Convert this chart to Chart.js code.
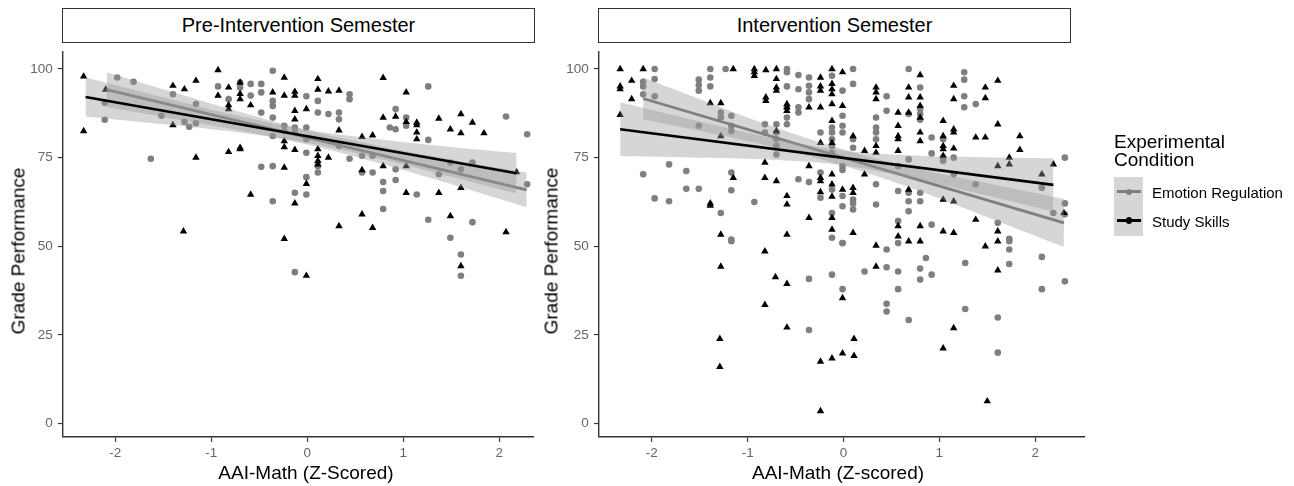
<!DOCTYPE html>
<html>
<head>
<meta charset="utf-8">
<script src="https://cdn.jsdelivr.net/npm/chart.js@4.4.1/dist/chart.umd.min.js"></script>
<style>
  html, body { margin:0; padding:0; background:#fff; }
  body { width:1294px; height:486px; position:relative; overflow:hidden; font-family:"Liberation Sans", Arial, sans-serif; color:#000; }
  canvas { position:absolute; top:0; }
  .strip { position:absolute; top:8px; height:35px; box-sizing:border-box; border:1.5px solid #333; background:#fff;
           font-size:20px; line-height:32px; text-align:center; }
  .xt { position:absolute; top:462.6px; font-size:19px; line-height:19px; white-space:nowrap; transform:translateX(-50%); }
  .yt { position:absolute; font-size:19px; line-height:19px; white-space:nowrap; transform:translate(-50%,-50%) rotate(-90deg); }
  .legtitle { position:absolute; left:1114px; top:132.8px; font-size:19px; line-height:18.2px; }
  .keybox { position:absolute; left:1114px; top:177px; width:29px; height:59px; background:#d6d6d6; }
  .kline { position:absolute; left:1117px; width:24px; height:2.8px; }
  .kdot { position:absolute; left:1126px; width:6.4px; height:6.4px; border-radius:50%; }
  .klab { position:absolute; left:1152px; font-size:15px; line-height:15px; white-space:nowrap; }
</style>
</head>
<body>
<canvas id="c1" width="560" height="486" style="left:0px"></canvas>
<canvas id="c2" width="560" height="486" style="left:560px"></canvas>

<div class="strip" style="left:62px; width:473px;">Pre-Intervention Semester</div>
<div class="strip" style="left:598px; width:473px;">Intervention Semester</div>

<div class="xt" style="left:306px;">AAI-Math (Z-Scored)</div>
<div class="xt" style="left:838px;">AAI-Math (Z-scored)</div>
<div class="yt" style="left:17.5px; top:251px;">Grade Performance</div>
<div class="yt" style="left:551px; top:251px;">Grade Performance</div>

<div class="legtitle">Experimental<br>Condition</div>
<div class="keybox"></div>
<div class="kline" style="top:190.4px; background:#7f7f7f;"></div>
<div class="kdot" style="top:188.5px; background:#7f7f7f;"></div>
<div class="kline" style="top:219.2px; background:#000;"></div>
<div class="kdot" style="top:217.3px; background:#000;"></div>
<div class="klab" style="top:184.7px;">Emotion Regulation</div>
<div class="klab" style="top:213.7px;">Study Skills</div>

<script>
// ---------- tick labels ----------
const xTicks = [-2, -1, 0, 1, 2];
const yTicks = [0, 25, 50, 75, 100];

// ---------- Pre-Intervention Semester ----------
// Emotion Regulation (grey circles)
const preER_x = [-2.11,-2.11,-1.98,-1.81,-1.63,-1.52,-1.40,-1.28,-1.23,-1.16,-1.16,-0.93,-0.82,-0.70,-0.70,-0.59,-0.59,-0.48,-0.48,-0.48,
  -0.36,-0.36,-0.36,-0.36,-0.36,-0.48,-0.36,-0.36,-0.24,-0.24,-0.13,-0.13,-0.13,-0.01,-0.01,-0.01,-0.01,-0.01,-0.01,0.11,
  0.11,0.11,0.11,0.22,0.33,0.33,0.33,0.44,0.44,0.44,0.57,0.57,0.68,0.68,0.79,0.79,0.79,0.86,0.92,0.92,
  0.92,0.92,1.03,1.03,1.14,1.26,1.26,1.26,1.37,1.49,1.49,1.60,1.72,1.72,2.07,2.29,2.29,-0.13,1.60,1.60];
const preER_y = [85.7,90.5,97.6,96.4,74.7,86.8,92.9,85.1,83.7,84.7,90.1,95.1,91.5,96.2,94.8,95.8,92.5,95.8,93.4,87.7,
  99.5,91.0,89.6,86.3,81.1,72.4,72.6,62.7,84.0,82.5,83.5,82.1,65.1,92.3,83.5,80.2,76.4,69.5,64.6,91.0,
  87.7,72.6,70.8,87.3,87.7,85.8,78.3,92.9,91.5,74.7,75.5,70.8,75.5,70.8,68.1,65.6,60.5,83.5,88.7,83.0,
  71.7,68.7,86.3,84.0,64.6,95.1,80.0,57.5,70.3,73.6,52.4,71.7,73.6,56.8,86.6,81.6,67.5,42.7,47.7,41.7];
// Study Skills (black triangles)
const preSS_x = [-2.33,-2.33,-2.10,-1.40,-1.28,-1.16,-1.40,-1.16,-1.29,-0.93,-0.93,-0.82,-0.82,-0.82,-0.70,-0.70,-0.70,-0.59,-0.82,-0.70,
  -0.70,-0.59,-0.36,-0.24,-0.24,-0.13,-0.13,-0.13,-0.13,-0.01,-0.24,-0.24,-0.13,-0.24,-0.01,-0.13,-0.24,0.11,0.11,0.22,
  0.33,0.11,0.11,0.11,0.11,0.22,0.33,0.33,0.57,0.57,0.57,0.68,0.68,0.79,0.79,0.79,0.92,1.03,1.03,1.03,
  1.03,1.14,1.14,1.14,1.14,1.37,1.37,1.49,1.49,1.60,1.60,1.60,1.72,1.84,2.07,2.18,-0.01,1.60];
const preSS_y = [97.9,82.5,94.2,95.3,94.3,96.7,84.2,75.0,54.2,99.7,92.5,94.8,89.8,88.7,96.2,93.0,91.5,89.8,76.6,77.8,
  77.4,64.6,93.4,97.6,92.5,93.6,92.5,88.2,85.8,88.7,79.7,78.0,77.2,72.2,67.6,62.1,52.1,97.2,94.2,93.7,
  93.9,77.4,75.5,74.1,73.1,75.0,82.7,55.7,80.9,71.5,59.0,81.3,55.2,97.5,86.3,72.6,86.6,93.4,85.1,72.6,
  65.1,84.9,84.2,82.1,80.2,86.0,65.1,83.0,58.5,87.3,81.9,66.5,84.9,81.9,54.0,70.9,41.7,44.4];
// fitted lines and confidence bands
const preER_fitX = [-2.09, 2.285];
const preER_fitY = [94.2, 65.9];
const preER_bandX = [-2.09, -1.5, -0.75, 0, 0.75, 1.5, 2.285];
const preER_bandHi = [99.1, 94.3, 88.3, 82.7, 78.3, 74.5, 70.8];
const preER_bandLo = [89.3, 86.5, 82.9, 78.7, 73.4, 67.5, 61.0];
const preSS_fitX = [-2.31, 2.18];
const preSS_fitY = [92.1, 70.6];
const preSS_bandX = [-2.31, -1.5, -0.75, 0, 0.75, 1.5, 2.18];
const preSS_bandHi = [97.6, 92.0, 87.0, 82.9, 80.2, 78.0, 76.3];
const preSS_bandLo = [86.6, 84.4, 82.2, 79.1, 74.7, 69.6, 64.9];

// ---------- Intervention Semester ----------
const intER_x = [-2.09,-2.09,-2.09,-1.97,-1.97,-1.97,-2.09,-1.97,-1.82,-1.82,-1.64,-1.64,-1.51,-1.51,-1.51,-1.51,-1.51,-1.39,-1.39,-1.39,
  -1.28,-1.28,-1.23,-1.17,-1.17,-1.17,-1.17,-1.17,-1.28,-1.17,-0.93,-0.82,-0.82,-0.70,-0.70,-0.70,-0.70,-0.70,-0.59,-0.59,
  -0.59,-0.59,-0.59,-0.59,-0.47,-0.47,-0.47,-0.47,-0.47,-0.36,-0.36,-0.36,-0.36,-0.36,-0.24,-0.24,-0.24,-0.12,-0.12,-0.12,
  -0.12,-0.12,-0.12,-0.12,-0.12,-0.12,-0.01,-0.01,-0.01,-0.01,-0.01,-0.01,-0.01,-0.01,-0.01,0.10,0.10,0.10,0.10,0.10,
  0.10,0.10,0.34,0.34,0.34,0.34,0.34,0.34,0.45,0.45,0.57,0.57,0.68,0.68,0.68,0.68,0.68,0.68,0.57,0.80,
  0.80,0.80,0.80,0.80,0.80,0.92,0.92,0.92,1.04,1.04,1.04,1.15,1.15,1.26,1.26,1.26,1.26,1.38,1.38,1.61,
  1.73,2.07,2.19,2.31,2.31,2.31,
  -1.17,-0.36,-0.12,-0.01,-0.01,-0.36,0.22,0.45,0.45,0.45,0.45,0.57,0.57,0.57,0.68,0.80,0.80,0.86,0.92,1.27,
  1.27,1.61,1.61,1.73,1.73,1.73,2.07,2.07,2.31];
const intER_y = [96.4,95.1,92.9,100,97.2,92.3,70.3,63.5,73.1,62.7,71.2,66.2,66.2,97.0,95.5,93.9,84.0,100,97.6,95.1,
  87.7,86.3,100,86.8,84.0,82.5,70.8,65.8,59.4,51.9,62.5,84.4,82.1,84.4,82.1,80.2,78.3,75.9,100,99.1,
  95.1,89.2,86.3,84.4,98.3,94.3,89.2,87.7,68.9,97.6,95.3,93.4,91.5,68.1,82.1,70.8,63.7,98.1,83.5,82.1,
  80.2,78.3,76.4,66.0,59.4,52.4,93.9,86.8,84.0,82.1,72.6,71.5,64.2,61.3,50.9,100,95.8,80.2,77.8,63.2,
  62.1,60.4,86.3,83.5,82.1,80.2,67.5,61.8,92.3,88.2,72.6,65.6,100,87.3,74.5,65.1,62.7,59.9,57.1,88.7,
  87.3,85.7,65.1,62.7,94.8,80.7,76.2,56.1,80.2,75.0,74.1,75.0,70.3,99.1,97.0,92.3,89.2,90.1,67.5,56.6,
  52.1,66.5,59.4,75.0,62.1,59.0,
  51.4,40.8,42.0,50.9,37.9,26.4,42.9,49.1,44.1,33.8,31.6,50.9,42.9,37.9,29.2,43.7,40.6,46.7,42.0,45.3,
  32.3,29.9,20.0,51.4,49.1,45.0,47.0,37.9,40.1];
const intSS_x = [-2.33,-2.33,-2.33,-2.33,-2.21,-2.21,-2.09,-1.39,-1.28,-1.28,-1.39,-1.39,-1.28,-1.15,-1.15,-0.93,-0.93,-0.93,-0.81,-0.70,
  -0.70,-0.70,-0.70,-0.81,-0.81,-0.59,-0.59,-0.59,-0.82,-0.82,-0.70,-0.70,-0.59,-0.59,-0.59,-0.36,-0.24,-0.24,-0.24,-0.24,
  -0.36,-0.36,-0.24,-0.24,-0.24,-0.24,-0.12,-0.12,-0.12,-0.12,-0.12,-0.12,-0.12,-0.12,-0.12,-0.12,-0.12,-0.12,-0.01,-0.01,
  -0.01,0.10,0.10,0.10,0.10,0.22,0.22,0.34,0.34,0.34,0.34,0.34,0.57,0.57,0.57,0.57,0.57,0.57,0.57,0.68,
  0.68,0.68,0.68,0.68,0.80,0.80,0.80,0.80,0.80,0.80,0.80,0.80,1.04,1.04,1.04,1.04,1.04,1.04,1.04,1.15,
  1.15,1.15,1.15,1.15,1.15,1.15,1.38,1.38,1.48,1.48,1.48,1.61,1.61,1.61,1.61,1.73,1.73,1.84,1.84,2.07,
  2.19,2.30,
  -1.28,-0.82,-0.71,-0.59,-0.82,-0.59,-1.29,-1.29,-0.24,-0.12,-0.01,0.11,0.11,-0.01,0.34,0.34,1.48,1.61,1.61,1.15,
  1.04,-0.24,1.50];
const intSS_y = [100,95.1,94.3,87.1,96.7,91.5,100,90.4,90.4,81.1,62.1,61.5,53.3,100,69.3,100,99.1,98.1,99.7,100,
  97.2,94.8,93.9,92.0,91.0,90.1,89.2,88.2,73.6,69.3,68.4,82.5,64.2,61.8,53.3,89.2,97.6,95.1,93.9,89.2,
  72.6,58.0,79.2,69.3,68.4,65.3,100,95.8,94.3,92.9,90.1,85.4,79.2,70.3,67.5,64.0,58.0,54.7,99.1,89.6,
  66.0,81.1,66.5,65.1,53.8,76.9,70.3,94.8,93.4,91.5,78.3,76.4,87.7,84.0,81.1,80.2,76.9,55.7,52.8,94.8,
  92.0,87.7,66.0,51.4,98.3,92.0,89.6,86.3,82.1,79.7,55.7,51.4,85.4,81.1,78.3,77.4,75.5,63.2,54.2,95.3,
  91.5,83.0,82.1,77.6,62.7,53.8,57.5,80.7,94.8,91.8,80.7,96.7,84.4,72.6,54.2,75.0,73.1,81.1,77.2,70.3,
  73.1,59.4,
  44.3,48.6,41.3,39.4,33.5,27.1,23.9,16.0,17.5,18.4,19.8,23.9,19.1,35.4,50.2,44.3,50.0,51.4,43.2,26.9,
  21.2,3.5,6.3];
const intER_fitX = [-2.09, 2.30];
const intER_fitY = [91.7, 56.6];
const intER_bandX = [-2.09, -1.5, -0.75, 0, 0.75, 1.5, 2.30];
const intER_bandHi = [97.6, 91.5, 83.9, 77.3, 72.0, 67.8, 63.4];
const intER_bandLo = [85.8, 82.5, 78.1, 72.7, 66.0, 58.2, 49.8];
const intSS_fitX = [-2.33, 2.19];
const intSS_fitY = [83.0, 67.3];
const intSS_bandX = [-2.33, -1.5, -0.75, 0, 0.75, 1.5, 2.19];
const intSS_bandHi = [90.6, 85.2, 80.6, 77.0, 75.6, 75.1, 74.8];
const intSS_bandLo = [75.4, 75.0, 74.4, 72.8, 69.0, 64.3, 59.8];

// ---------- drawing ----------
const FONT = '"Liberation Sans", Arial, sans-serif';
const GREY = '#7f7f7f';
const BAND = 'rgba(153,153,153,0.4)';
function pts(xs, ys) { return xs.map((x, i) => ({ x: x, y: ys[i] })); }

function band(xs, ys, fill, order) {
  return { data: pts(xs, ys), showLine: true, borderWidth: 0, borderColor: 'rgba(0,0,0,0)',
           pointRadius: 0, tension: 0.4, fill: fill, backgroundColor: BAND, order: order };
}

function makeChart(id, d, geo) {
  const datasets = [
    { data: pts(d.erX, d.erY), showLine: false, pointStyle: 'circle', pointRadius: 3.3,
      pointBackgroundColor: GREY, pointBorderWidth: 0, order: 7 },
    { data: pts(d.ssX, d.ssY), showLine: false, pointStyle: 'triangle', pointRadius: 4.3,
      pointBackgroundColor: '#000', pointBorderWidth: 0, order: 6 },
    band(d.erBX, d.erBH, '+1', 5),
    band(d.erBX, d.erBL, false, 5),
    { data: pts(d.erFX, d.erFY), showLine: true, borderColor: GREY, borderWidth: 2.7, pointRadius: 0, fill: false, order: 4 },
    band(d.ssBX, d.ssBH, '+1', 3),
    band(d.ssBX, d.ssBL, false, 3),
    { data: pts(d.ssFX, d.ssFY), showLine: true, borderColor: '#000', borderWidth: 2.7, pointRadius: 0, fill: false, order: 2 }
  ];
  const axisCommon = {
    type: 'linear',
    grid: { display: true, drawOnChartArea: false, drawTicks: true, tickLength: 5, color: '#333', lineWidth: 1.1 },
    border: { display: true, color: '#333', width: 1.4 },
  };
  return new Chart(document.getElementById(id), {
    type: 'line',
    data: { datasets: datasets },
    options: {
      responsive: false, animation: false, devicePixelRatio: 1, events: [],
      layout: { padding: { left: 0, top: 52, right: geo.padRight, bottom: 0 } },
      plugins: { legend: { display: false }, tooltip: { enabled: false }, title: { display: false } },
      scales: {
        x: Object.assign({}, axisCommon, {
          position: 'bottom', min: geo.xMin, max: geo.xMax,
          ticks: { font: { family: FONT, size: 13.5 }, color: '#666', padding: 3, maxRotation: 0 },
          afterBuildTicks: s => { s.ticks = xTicks.map(v => ({ value: v })); },
          afterFit: s => { s.height = 49; }
        }),
        y: Object.assign({}, axisCommon, {
          position: 'left', min: -3.8, max: 104.8,
          ticks: { font: { family: FONT, size: 13.5 }, color: '#666', padding: 5 },
          afterBuildTicks: s => { s.ticks = yTicks.map(v => ({ value: v })); },
          afterFit: s => { s.width = geo.yWidth; }
        })
      }
    }
  });
}

makeChart('c1', {
  erX: preER_x, erY: preER_y, ssX: preSS_x, ssY: preSS_y,
  erFX: preER_fitX, erFY: preER_fitY, erBX: preER_bandX, erBH: preER_bandHi, erBL: preER_bandLo,
  ssFX: preSS_fitX, ssFY: preSS_fitY, ssBX: preSS_bandX, ssBH: preSS_bandHi, ssBL: preSS_bandLo
}, { xMin: -2.548, xMax: 2.354, yWidth: 62.7, padRight: 560 - 533.3 });

makeChart('c2', {
  erX: intER_x, erY: intER_y, ssX: intSS_x, ssY: intSS_y,
  erFX: intER_fitX, erFY: intER_fitY, erBX: intER_bandX, erBH: intER_bandHi, erBL: intER_bandLo,
  ssFX: intSS_fitX, ssFY: intSS_fitY, ssBX: intSS_bandX, ssBH: intSS_bandHi, ssBL: intSS_bandLo
}, { xMin: -2.553, xMax: 2.52, yWidth: 38.8, padRight: 560 - 525 });
</script>
</body>
</html>
